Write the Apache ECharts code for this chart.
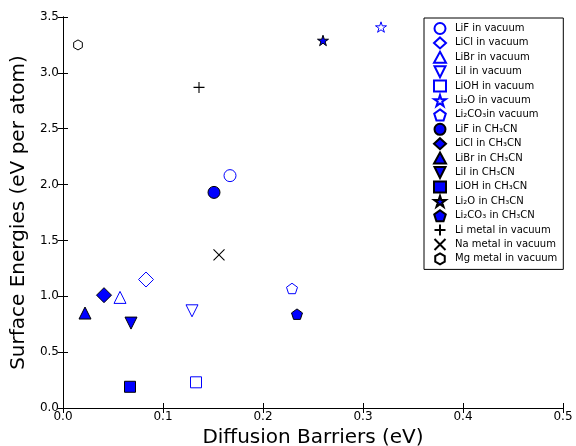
<!DOCTYPE html>
<html><head><meta charset="utf-8">
<script src="https://cdn.jsdelivr.net/npm/echarts@6/dist/echarts.min.js"></script>
<style>html,body{margin:0;padding:0;background:#fff;overflow:hidden}#c{width:576px;height:446px}</style>
</head><body><div id="c"></div>
<script>
const names = ['LiF in vacuum','LiCl in vacuum','LiBr in vacuum','LiI in vacuum','LiOH in vacuum','Li₂O in vacuum','Li₂CO₃in vacuum',
  'LiF in CH₃CN','LiCl in CH₃CN','LiBr in CH₃CN','LiI in CH₃CN','LiOH in CH₃CN','Li₂O in CH₃CN','Li₂CO₃ in CH₃CN',
  'Li metal in vacuum','Na metal in vacuum','Mg metal in vacuum'];
const barriers = [0.167,0.083,0.057,0.129,0.133,0.318,0.229, 0.151,0.041,0.022,0.068,0.067,0.260,0.234, 0.136,0.156,0.015];
const energies = [2.08,1.15,0.99,0.87,0.23,3.41,1.07, 1.93,1.01,0.85,0.76,0.19,3.29,0.84, 2.87,1.37,3.25];
const xTicks = [0,0.1,0.2,0.3,0.4,0.5];
const yTicks = [0,0.5,1,1.5,2,2.5,3,3.5];

const STAR='path://M50,0 L61.17,34.63 L97.55,34.55 L68.07,55.87 L79.39,90.45 L50,69 L20.61,90.45 L31.93,55.87 L2.45,34.55 L38.83,34.63 Z';
const PENT='path://M50,0 L97.6,34.5 L79.4,90.5 L20.6,90.5 L2.4,34.5 Z';
const HEX='path://M50,0 L93.3,25 L93.3,75 L50,100 L6.7,75 L6.7,25 Z';
const TDOWN='path://M0,0 L100,0 L50,100 Z';
const PLUS='path://M50,0 L50,100 M0,50 L100,50';
const CROSS='path://M0,0 L100,100 M100,0 L0,100';
const shapes = ['circle','diamond','triangle',TDOWN,'rect',STAR,PENT,'circle','diamond','triangle',TDOWN,'rect',STAR,PENT,PLUS,CROSS,HEX];
const sizes = [12,15,12,12,11,11,11, 12,15,12,12,11,11,11, 11,11,10];

function styleFor(i){
  if(i<7) return {color:'#ffffff',borderColor:'#0000ff',borderWidth:1,opacity:1};
  if(i<14) return {color:'#0000ff',borderColor:'#000000',borderWidth:1,opacity:1};
  if(i<16) return {color:'rgba(0,0,0,0)',borderColor:'#000000',borderWidth:1.1,opacity:1};
  return {color:'#ffffff',borderColor:'#000000',borderWidth:1,opacity:1};
}
const series = names.map((n,i)=>({
  name:n,type:'scatter',symbol:shapes[i],symbolSize:sizes[i],symbolKeepAspect:true,
  itemStyle:styleFor(i),data:[[barriers[i],energies[i]]],z:3
}));

const FONT='DejaVu Sans';
const chart = echarts.init(document.getElementById('c'),null,{renderer:'canvas'});
const axisCommon = {axisLine:{show:true,lineStyle:{color:'#000',width:1}},splitLine:{show:false},
  axisTick:{show:true,inside:true,length:5,lineStyle:{color:'#000'}}};
chart.setOption({
  animation:false,
  textStyle:{fontFamily:FONT},
  grid:{left:63,right:13,top:17,bottom:38,containLabel:false,outerBoundsMode:'none'},
  xAxis:[
    Object.assign({type:'value',min:0,max:0.5,interval:0.1,position:'bottom',
      name:'Diffusion Barriers (eV)',nameLocation:'middle',nameGap:18,
      nameTextStyle:{fontSize:20,color:'#000',fontFamily:FONT},
      axisLabel:{fontSize:12,color:'#000',margin:3,fontFamily:FONT,formatter:v=>v.toFixed(1)}},axisCommon),
    Object.assign({type:'value',min:0,max:0.5,interval:0.1,position:'top',axisLabel:{show:false}},axisCommon)
  ],
  yAxis:[
    Object.assign({type:'value',min:0,max:3.5,interval:0.5,position:'left',
      name:'Surface Energies (eV per atom)',nameLocation:'middle',nameGap:27,
      nameTextStyle:{fontSize:20,color:'#000',fontFamily:FONT},
      axisLabel:{fontSize:12,color:'#000',margin:4,fontFamily:FONT,formatter:v=>v.toFixed(1)}},axisCommon),
    Object.assign({type:'value',min:0,max:3.5,interval:0.5,position:'right',axisLabel:{show:false}},axisCommon)
  ],
  legend:{
    orient:'vertical',left:424,top:18,
    data:names,itemWidth:12,itemHeight:11,itemGap:1.4,
    padding:[4,6,4,9],
    borderColor:'#000',borderWidth:1,backgroundColor:'#fff',borderRadius:0,
    textStyle:{fontSize:10,color:'#000',fontFamily:FONT,padding:[0,0,0,4]}
  },
  series:series
});
</script></body></html>
